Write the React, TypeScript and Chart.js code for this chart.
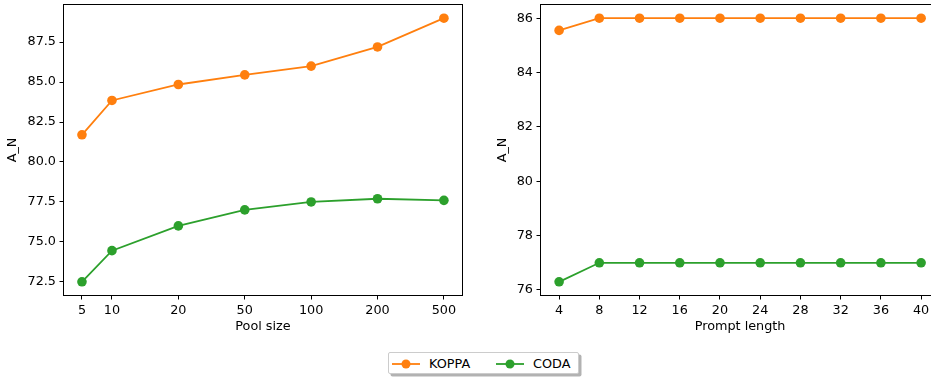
import React, { useEffect, useRef } from "react";
import { Chart, registerables } from "chart.js";

Chart.register(...registerables);

const poolSizes = [5, 10, 20, 50, 100, 200, 500];
// horizontal slot of each pool size on the (non-uniform) x axis
const poolSlots = [0.548, 1, 2, 3, 4, 5, 6];
const koppaPool = [81.7, 83.85, 84.85, 85.45, 86.0, 87.2, 89.0];
const codaPool = [72.5, 74.45, 76.0, 77.0, 77.5, 77.7, 77.6];
const poolYTicks = [72.5, 75.0, 77.5, 80.0, 82.5, 85.0, 87.5];

const promptLengths = [4, 8, 12, 16, 20, 24, 28, 32, 36, 40];
const koppaPrompt = [85.55, 86, 86, 86, 86, 86, 86, 86, 86, 86];
const codaPrompt = [76.3, 77, 77, 77, 77, 77, 77, 77, 77, 77];
const promptYTicks = [76, 78, 80, 82, 84, 86];

const ORANGE = "#ff7f0e";
const GREEN = "#2ca02c";
const FONT = "DejaVu Sans";
const FS = 12.8;

const spinePlugin = {
  id: "spines",
  afterDraw(chart: any) {
    const { ctx, chartArea } = chart;
    ctx.save();
    ctx.strokeStyle = "#000";
    ctx.lineWidth = 1;
    ctx.strokeRect(
      Math.round(chartArea.left) - 0.5,
      Math.round(chartArea.top) - 0.5,
      Math.round(chartArea.right - chartArea.left) + 1,
      Math.round(chartArea.bottom - chartArea.top) + 1
    );
    ctx.restore();
  },
};

function ds(label: string, xs: number[], ys: number[], color: string) {
  return {
    label,
    data: xs.map((x, i) => ({ x, y: ys[i] })),
    borderColor: color,
    backgroundColor: color,
    borderWidth: 1.8,
    pointRadius: 4.8,
    pointHoverRadius: 4.8,
    pointBorderWidth: 0,
    tension: 0,
  };
}

function axisCommon(title: string, titlePad: any) {
  return {
    grid: {
      display: true,
      drawOnChartArea: false,
      drawTicks: true,
      tickLength: 4.5,
      color: "#000",
      lineWidth: 1,
    },
    border: { display: false },
    title: {
      display: true,
      text: title,
      color: "#000",
      font: { family: FONT, size: FS },
      padding: titlePad,
    },
  };
}

function makeOptions(
  xMin: number,
  xMax: number,
  xTicks: number[],
  xLabels: string[],
  yMin: number,
  yMax: number,
  yTicks: number[],
  yFmt: (v: number) => string,
  xTitle: string,
  yWidth: number,
  yTitlePadTop: number,
  padRight: number
) {
  return {
    responsive: false,
    animation: false,
    maintainAspectRatio: false,
    layout: { padding: { top: 5, right: padRight, left: 0, bottom: 0 } },
    plugins: { legend: { display: false }, tooltip: { enabled: false } },
    scales: {
      x: {
        type: "linear",
        min: xMin,
        max: xMax,
        ...axisCommon(xTitle, { top: 2, bottom: 5.5 }),
        ticks: {
          color: "#000",
          font: { family: FONT, size: FS },
          autoSkip: false,
          maxRotation: 0,
          padding: 3,
          callback: (_v: any, i: number) => xLabels[i],
        },
        afterBuildTicks: (s: any) => {
          s.ticks = xTicks.map((v) => ({ value: v }));
        },
        afterFit: (s: any) => {
          s.height = 45;
          s.paddingLeft = 0;
          s.paddingRight = 0;
        },
      },
      y: {
        type: "linear",
        min: yMin,
        max: yMax,
        ...axisCommon("A_N", { top: yTitlePadTop, bottom: 0 }),
        ticks: {
          color: "#000",
          font: { family: FONT, size: FS },
          padding: 3.5,
          callback: (v: any) => yFmt(Number(v)),
        },
        afterBuildTicks: (s: any) => {
          s.ticks = yTicks.map((v) => ({ value: v }));
        },
        afterFit: (s: any) => {
          s.width = yWidth;
          s.paddingTop = 0;
          s.paddingBottom = 0;
        },
      },
    },
  };
}

export default function App() {
  const leftRef = useRef<HTMLCanvasElement>(null);
  const rightRef = useRef<HTMLCanvasElement>(null);

  useEffect(() => {
    Chart.defaults.font.family = FONT;
    Chart.defaults.font.size = FS;
    Chart.defaults.color = "#000";

    const left = new Chart(leftRef.current as HTMLCanvasElement, {
      type: "line",
      data: {
        datasets: [
          ds("KOPPA", poolSlots, koppaPool, ORANGE),
          ds("CODA", poolSlots, codaPool, GREEN),
        ],
      } as any,
      options: makeOptions(
        0.2775,
        6.2725,
        poolSlots,
        poolSizes.map(String),
        71.675,
        89.825,
        poolYTicks,
        (v) => v.toFixed(1),
        "Pool size",
        64,
        5.3,
        8
      ) as any,
      plugins: [spinePlugin],
    });

    const right = new Chart(rightRef.current as HTMLCanvasElement, {
      type: "line",
      data: {
        datasets: [
          ds("KOPPA", promptLengths, koppaPrompt, ORANGE),
          ds("CODA", promptLengths, codaPrompt, GREEN),
        ],
      } as any,
      options: makeOptions(
        2.2,
        41.8,
        promptLengths,
        promptLengths.map(String),
        75.815,
        86.485,
        promptYTicks,
        (v) => String(Math.round(v)),
        "Prompt length",
        71,
        25.3,
        1
      ) as any,
      plugins: [spinePlugin],
    });

    return () => {
      left.destroy();
      right.destroy();
    };
  }, []);

  const legendItem = (color: string, label: string, x: number) => (
    <div
      style={{
        position: "absolute",
        left: x,
        top: 0,
        height: 22,
        display: "flex",
        alignItems: "center",
      }}
    >
      <svg width={28} height={22} style={{ display: "block" }}>
        <line x1={0} y1={11} x2={28} y2={11} stroke={color} strokeWidth={1.8} />
        <circle cx={14} cy={11} r={4.5} fill={color} />
      </svg>
      <span
        style={{
          marginLeft: 9,
          fontFamily: FONT,
          fontSize: FS,
          color: "#000",
          lineHeight: "22px",
        }}
      >
        {label}
      </span>
    </div>
  );

  return (
    <div
      style={{
        position: "fixed",
        left: 0,
        top: 0,
        width: 931,
        height: 377,
        overflow: "hidden",
        background: "#fff",
      }}
    >
      <canvas
        ref={leftRef}
        width={470}
        height={340}
        style={{ position: "absolute", left: 0, top: 0, width: 470, height: 340 }}
      />
      <canvas
        ref={rightRef}
        width={474}
        height={340}
        style={{ position: "absolute", left: 470, top: 0, width: 474, height: 340 }}
      />
      <div
        style={{
          position: "absolute",
          left: 388,
          top: 352,
          width: 191,
          height: 22,
          border: "1px solid #cccccc",
          borderRadius: 2,
          background: "#fff",
          boxShadow: "2.5px 2.5px 0 rgba(0,0,0,0.3)",
          boxSizing: "border-box",
        }}
      >
        {legendItem(ORANGE, "KOPPA", 3)}
        {legendItem(GREEN, "CODA", 107)}
      </div>
    </div>
  );
}
